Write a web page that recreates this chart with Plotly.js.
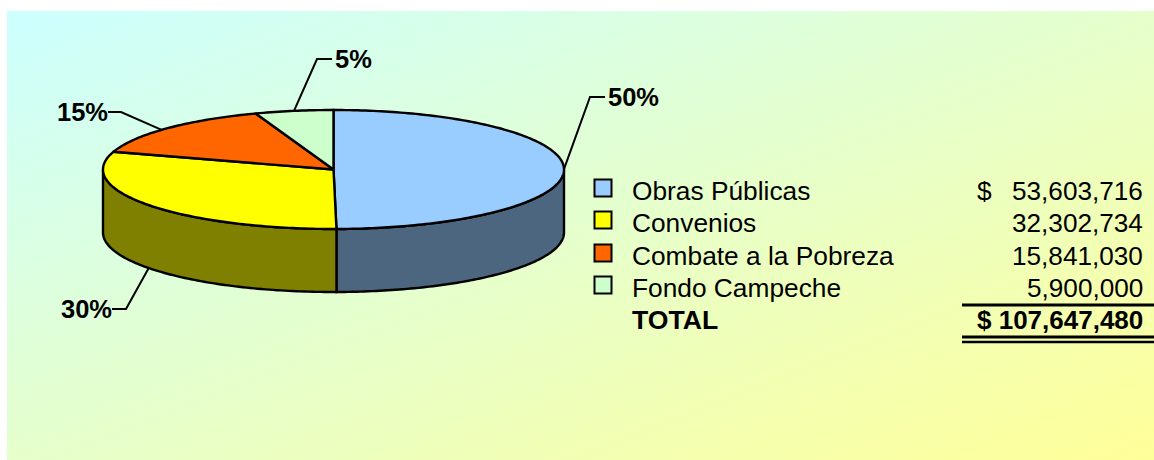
<!DOCTYPE html>
<html>
<head>
<meta charset="utf-8">
<script src="https://cdn.plot.ly/plotly-3.0.1.min.js"></script>
<style>
html,body{margin:0;padding:0;background:#fff;width:1154px;height:460px;overflow:hidden}
#bg{position:absolute;left:7px;top:11px;width:1147px;height:449px;background:linear-gradient(to bottom right,#CCFFFF,#FFFF99)}
#chart{position:absolute;left:0;top:0;width:1154px;height:460px}
</style>
</head>
<body>
<div id="bg"></div>
<div id="chart"></div>
<script>
const categories = ["Obras Públicas", "Convenios", "Combate a la Pobreza", "Fondo Campeche"];
const amounts = [53603716, 32302734, 15841030, 5900000];
const topColors = ["#99CCFF", "#FFFF00", "#FF6600", "#CCFFCC"];
const sideColors = ["#4D6680", "#808000", "#803300", "#668066"];
const totalLabel = "TOTAL";

const FONT = "Liberation Sans, Arial, sans-serif";
const cx = 333.5, cy = 169.5, rx = 230.5, ry = 59.5, depth = 63;
const total = amounts.reduce((a, b) => a + b, 0);

function pt(deg, dy) {
  const r = deg * Math.PI / 180;
  return [cx + rx * Math.sin(r), cy - ry * Math.cos(r) + (dy || 0)];
}
function arc(a, b, dy) {
  const out = [], n = Math.max(2, Math.ceil(Math.abs(b - a)));
  for (let i = 0; i <= n; i++) out.push(pt(a + (b - a) * i / n, dy));
  return out;
}
function poly(points, fill, width) {
  return {
    type: "scatter", mode: "lines", x: points.map(p => p[0]), y: points.map(p => p[1]),
    fill: "toself", fillcolor: fill, line: {color: "#000", width: width || 2.4, simplify: false},
    hoverinfo: "skip", showlegend: false
  };
}

let start = 0;
const spans = amounts.map(v => { const s = [start, start + v / total * 360]; start = s[1]; return s; });

const traces = [];
// visible front wall, only between 90 and 270 degrees
spans.forEach((s, i) => {
  const a = Math.max(s[0], 90), b = Math.min(s[1], 270);
  if (b > a) traces.push(poly(arc(a, b, 0).concat(arc(b, a, depth)).concat([pt(a, 0)]), sideColors[i]));
});
// top faces
spans.forEach((s, i) => {
  traces.push(poly([[cx, cy]].concat(arc(s[0], s[1], 0)).concat([[cx, cy]]), topColors[i]));
});

// leader lines: anchor near the mid angle of each slice, then elbow to the label
const elbows = [[590, 97, 605, 97, 0, 0], [126, 309, 112, 309, depth, 0], [121, 112, 108, 112, 0, -2], [317, 59, 332, 59, 0, 0]];
const pctPos = [[608, 97, "left"], [112, 309, "right"], [108, 112, "right"], [335, 59, "left"]];
spans.forEach((s, i) => {
  const a = pt((s[0] + s[1]) / 2 + elbows[i][5], elbows[i][4]);
  traces.push({
    type: "scatter", mode: "lines", x: [a[0], elbows[i][0], elbows[i][2]], y: [a[1], elbows[i][1], elbows[i][3]],
    line: {color: "#000", width: 2}, hoverinfo: "skip", showlegend: false
  });
});

// legend swatches
const rowY = [191, 223, 256, 288];
traces.push({
  type: "scatter", mode: "markers", x: categories.map(() => 603), y: rowY.map(y => y - 3),
  marker: {symbol: "square", size: 17, color: topColors, line: {color: "#000", width: 2}},
  hoverinfo: "skip", showlegend: false
});

const ann = [];
function label(x, y, text, anchor, size, bold) {
  ann.push({
    x: x, y: y, xref: "x", yref: "y", text: bold ? "<b>" + text + "</b>" : text, showarrow: false,
    xanchor: anchor, yanchor: "middle", borderpad: 0, borderwidth: 0,
    font: {family: FONT, size: size, color: "#000"}
  });
}
amounts.forEach((v, i) => {
  label(pctPos[i][0], pctPos[i][1], Math.round(v / total * 100) + "%", pctPos[i][2], 25.5, true);
  label(632, rowY[i], categories[i], "left", 26.3, false);
  label(1143, rowY[i], v.toLocaleString("en-US"), "right", 26.15, false);
});
label(977, rowY[0], "$", "left", 26.3, false);
label(632, 320, totalLabel, "left", 26.6, true);
label(1143, 320, "$ " + total.toLocaleString("en-US"), "right", 26, true);

const rule = (y, w) => ({type: "line", xref: "x", yref: "y", x0: 962, x1: 1154, y0: y, y1: y, line: {color: "#000", width: w}});

Plotly.newPlot("chart", traces, {
  width: 1154, height: 460, margin: {l: 0, r: 0, t: 0, b: 0},
  paper_bgcolor: "rgba(0,0,0,0)", plot_bgcolor: "rgba(0,0,0,0)",
  showlegend: false, hovermode: false,
  xaxis: {range: [0, 1154], visible: false, fixedrange: true},
  yaxis: {range: [460, 0], visible: false, fixedrange: true},
  annotations: ann,
  shapes: [rule(305, 3), rule(337, 3), rule(342, 2.5)]
}, {staticPlot: true, displayModeBar: false});
</script>
</body>
</html>
